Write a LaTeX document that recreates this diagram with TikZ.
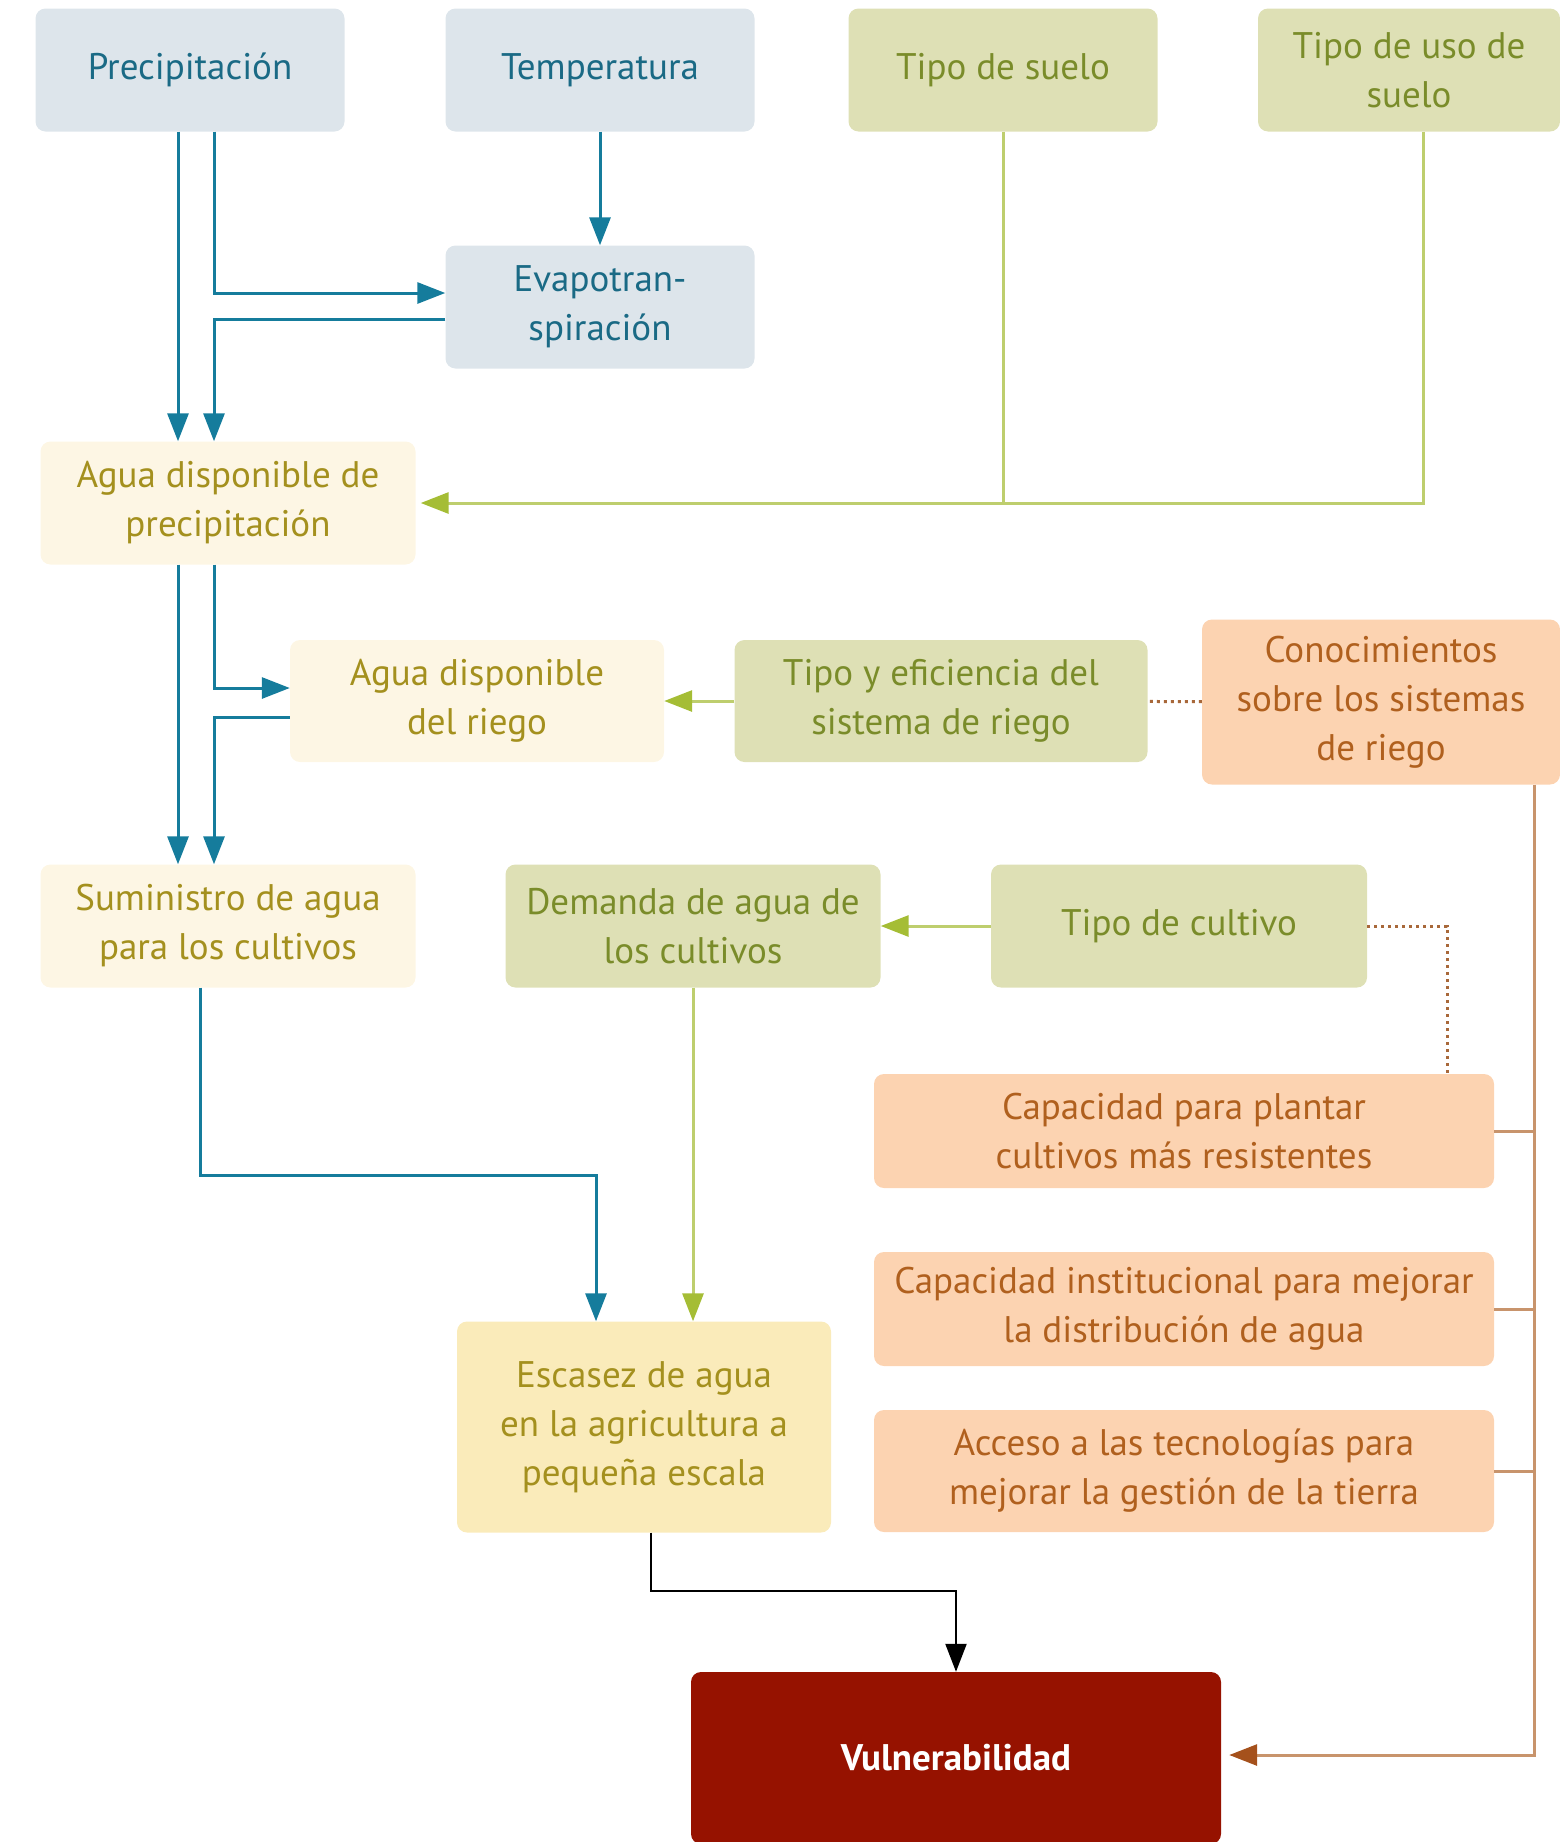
\documentclass[tikz,border=0pt]{standalone}
\usepackage{fontspec}
\setmainfont{PT Sans}
\usetikzlibrary{arrows.meta, positioning, calc}
\definecolor{clim_fill}{RGB}{221, 229, 235}
\definecolor{clim_text}{RGB}{26, 106, 133}
\definecolor{flow_blue}{RGB}{21, 124, 156}
\definecolor{soil_fill}{RGB}{222, 224, 181}
\definecolor{soil_text}{RGB}{122, 140, 42}
\definecolor{soil_line}{RGB}{190, 206, 110}
\definecolor{soil_tip}{RGB}{165, 189, 53}
\definecolor{water_fill}{RGB}{253, 246, 228}
\definecolor{water_text}{RGB}{164, 144, 30}
\definecolor{scarce_fill}{RGB}{250, 235, 186}
\definecolor{cap_fill}{RGB}{252, 211, 177}
\definecolor{cap_text}{RGB}{176, 96, 30}
\definecolor{cap_line}{RGB}{200, 148, 108}
\definecolor{cap_tip}{RGB}{165, 81, 28}
\definecolor{cap_dot}{RGB}{168, 104, 58}
\definecolor{vuln_red}{RGB}{150, 18, 0}

\begin{document}
\begin{tikzpicture}[
    x=1pt, y=-1pt,
    box/.style={
        rectangle,
        draw=none,
        minimum width=309pt,
        minimum height=123pt,
        align=center,
        inner sep=0pt,
        rounded corners=10pt,
        font=\fontsize{37}{49}\selectfont
    },
    climate/.style={box, fill=clim_fill, text=clim_text},
    land/.style={box, fill=soil_fill, text=soil_text},
    water/.style={box, fill=#1, text=water_text},
    capacity/.style={box, fill=cap_fill, text=cap_text},
    vulnbox/.style={box, fill=vuln_red, text=white, font=\fontsize{37}{49}\selectfont\bfseries},
    arrow/.style={
        -{Triangle[length=28pt, width=21pt]},
        line width=3pt,
        #1
    },
    tiparrow/.style={
        -{Triangle[length=28pt, width=21pt, color=#1]},
        line width=3pt
    },
    dots/.style={
        draw=cap_dot,
        line width=3pt,
        dash pattern=on 3pt off 4pt
    }
]
\useasboundingbox (0,0) rectangle (1560,1842);

% Position the climate boxes
\node[climate] (precip) at (190,70) {Precipitación};
\node[climate] (temp) at (600,70) {Temperatura};
\node[climate] (evapo) at (600,307) {Evapotran-\\spiración};

% Position the land boxes
\node[land] (suelo) at (1003,70) {Tipo de suelo};
\node[land, minimum width=302pt] (usosuelo) at (1409,70) {Tipo de uso de\\suelo};
\node[land, minimum width=413pt, minimum height=122pt] (tipoefic) at (941,701) {Tipo y eficiencia del\\sistema de riego};
\node[land, minimum width=375pt] (demanda) at (693,926) {Demanda de agua de\\los cultivos};
\node[land, minimum width=376pt] (tipocult) at (1179,926) {Tipo de cultivo};

% Position the water boxes
\node[water=water_fill, minimum width=375pt] (aguaprec) at (228,503) {Agua disponible de\\precipitación};
\node[water=water_fill, minimum width=374pt, minimum height=122pt] (aguariego) at (477,701) {Agua disponible\\del riego};
\node[water=water_fill, minimum width=375pt] (suministro) at (228,926) {Suministro de agua\\para los cultivos};
\node[water=scarce_fill, minimum width=374pt, minimum height=211pt] (escasez) at (644,1427) {Escasez de agua\\en la agricultura a\\pequeña escala};

% Position the capacity boxes
\node[capacity, minimum width=358pt, minimum height=165pt] (conoc) at (1381,702) {Conocimientos\\sobre los sistemas\\de riego};
\node[capacity, minimum width=620pt, minimum height=114pt] (capplant) at (1184,1131) {Capacidad para plantar\\cultivos más resistentes};
\node[capacity, minimum width=620pt, minimum height=114pt] (capinst) at (1184,1309) {Capacidad institucional para mejorar\\la distribución de agua};
\node[capacity, minimum width=620pt, minimum height=122pt] (acceso) at (1184,1471) {Acceso a las tecnologías para\\mejorar la gestión de la tierra};

% Position the vulnerability box
\node[vulnbox, minimum width=530pt, minimum height=172pt] (vuln) at (956,1758) {Vulnerabilidad};

% Draw the blue arrows
\draw[arrow=flow_blue] ([xshift=-12pt]precip.south) -- ([xshift=-12pt]precip.south |- aguaprec.north);
\draw[arrow=flow_blue] ([xshift=24pt]precip.south) |- ([yshift=14pt]evapo.west);
\draw[arrow=flow_blue] ([yshift=-12pt]evapo.west) -| ([xshift=24pt]precip.south |- aguaprec.north);
\draw[arrow=flow_blue] (temp) -- (evapo);
\draw[arrow=flow_blue] ([xshift=-50pt]aguaprec.south) -- ([xshift=-50pt]aguaprec.south |- suministro.north);
\draw[arrow=flow_blue] ([xshift=-14pt]aguaprec.south) |- ([yshift=13pt]aguariego.west);
\draw[arrow=flow_blue] ([yshift=-16pt]aguariego.west) -| ([xshift=-14pt]aguaprec.south |- suministro.north);
\draw[arrow=flow_blue] ([xshift=-28pt]suministro.south) -- ++(0,188) -| ([xshift=-48pt]escasez.north);

% Draw the green arrows
\draw[soil_line, line width=3pt] (suelo.south) -- (suelo.south |- aguaprec.east);
\draw[tiparrow=soil_tip, draw=soil_line, shorten >=5pt] ([xshift=14pt]usosuelo.south) |- (aguaprec.east);
\draw[tiparrow=soil_tip, draw=soil_line] (tipoefic) -- (aguariego);
\draw[tiparrow=soil_tip, draw=soil_line] (tipocult) -- (demanda);
\draw[tiparrow=soil_tip, draw=soil_line] (demanda.south) -- (demanda.south |- escasez.north);

% Dotted links
\draw[dots] (conoc) -- (tipoefic);
\draw[dots] (tipocult.east) -| ([xshift=263pt]capplant.north);

% Draw the capacity links
\coordinate (spine) at ([xshift=153pt]conoc.south);
\draw[tiparrow=cap_tip, draw=cap_line, shorten >=8pt] (spine) |- ([yshift=3pt]vuln.east);
\draw[cap_line, line width=3pt] (capplant.east) -- (capplant.east -| spine);
\draw[cap_line, line width=3pt] (capinst.east) -- (capinst.east -| spine);
\draw[cap_line, line width=3pt] (acceso.east) -- (acceso.east -| spine);

% Scarcity to vulnerability
\draw[arrow=black, line width=2.2pt] ([xshift=7pt]escasez.south) -- ++(0,58) -| (vuln.north);

\end{tikzpicture}
\end{document}
